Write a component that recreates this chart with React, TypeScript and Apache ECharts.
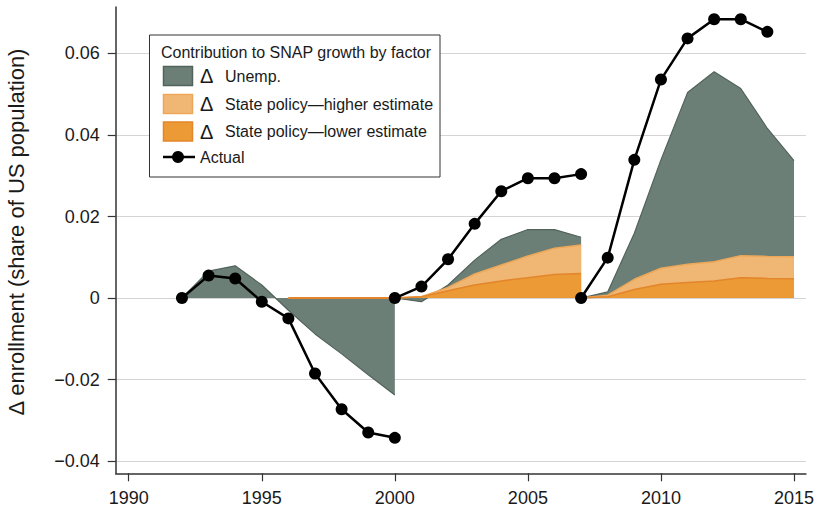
import React, { useEffect, useRef } from "react";
import * as echarts from "echarts";

const FONT = '"Liberation Sans", Arial, Helvetica, sans-serif';

// Axis ticks
const xTicks = [1990, 1995, 2000, 2005, 2010, 2015];
const yTicks = [-0.04, -0.02, 0, 0.02, 0.04, 0.06];

// Period 1: 1992–2000
const years1 = [1992, 1993, 1994, 1995, 1996, 1997, 1998, 1999, 2000];
const actual1 = [0, 0.0055, 0.0048, -0.0009, -0.005, -0.0185, -0.0273, -0.033, -0.0343];
const unemp1 = [0, 0.0066, 0.0079, 0.0032, -0.003, -0.0088, -0.0137, -0.0188, -0.0238];
const policyYears1 = [1996, 1997, 1998, 1999, 2000];
const policyHigh1 = [0, 0, 0, 0, 0];
const policyLow1 = [0, 0, 0, 0, 0];

// Period 2: 2000–2007
const years2 = [2000, 2001, 2002, 2003, 2004, 2005, 2006, 2007];
const actual2 = [0, 0.0028, 0.0095, 0.0182, 0.0262, 0.0294, 0.0294, 0.0304];
const unemp2 = [0, -0.0009, 0.0032, 0.0093, 0.0144, 0.0168, 0.0168, 0.0149];
const policyHigh2 = [0, 0.0003, 0.0026, 0.0059, 0.0081, 0.0103, 0.0122, 0.013];
const policyLow2 = [0, 0.0003, 0.0018, 0.0032, 0.0042, 0.005, 0.0058, 0.006];

// Period 3: 2007–2015
const years3 = [2007, 2008, 2009, 2010, 2011, 2012, 2013, 2014, 2015];
const actual3 = [0, 0.0099, 0.0339, 0.0536, 0.0637, 0.0684, 0.0684, 0.0653];
const unemp3 = [0, 0.0015, 0.0159, 0.0339, 0.0504, 0.0555, 0.0514, 0.0416, 0.0337];
const policyHigh3 = [0, 0.0007, 0.0046, 0.0073, 0.0083, 0.0089, 0.0104, 0.0102, 0.0101];
const policyLow3 = [0, 0.0003, 0.0021, 0.0034, 0.0038, 0.0042, 0.005, 0.0048, 0.0047];

const GRAY = "#6b7f76";
const GRAY_EDGE = "#52635b";
const LIGHT = "#f0b673";
const LIGHT_EDGE = "#eda758";
const DARK = "#ec9a36";
const DARK_EDGE = "#e3852a";

const pairs = (xs: number[], ys: number[]) => ys.map((v, i) => [xs[i], v]);

const areaSeries = (
  name: string,
  xs: number[],
  ys: number[],
  fill: string,
  edge: string,
  width: number,
  z: number
) => ({
  name,
  type: "line",
  data: pairs(xs, ys),
  symbol: "none",
  z,
  lineStyle: { color: edge, width },
  areaStyle: { color: fill, opacity: 1 },
});

const actualSeries = (xs: number[], ys: number[]) => ({
  name: "Actual",
  type: "line",
  data: pairs(xs, ys),
  symbol: "circle",
  symbolSize: 12,
  z: 10,
  itemStyle: { color: "#000" },
  lineStyle: { color: "#000", width: 2.5 },
});

const fmtY = (v: number) => {
  if (Math.abs(v) < 1e-9) return "0";
  return (v < 0 ? "\u2212" : "") + Math.abs(v).toFixed(2);
};

const legendRows = [
  { label: "Unemp.", fill: GRAY, edge: GRAY_EDGE, y: 76 },
  { label: "State policy\u2014higher estimate", fill: LIGHT, edge: LIGHT_EDGE, y: 104 },
  { label: "State policy\u2014lower estimate", fill: DARK, edge: DARK_EDGE, y: 131.5 },
];

export default function App() {
  const ref = useRef<HTMLDivElement>(null);

  useEffect(() => {
    if (!ref.current) return;
    const chart = echarts.init(ref.current, undefined, { renderer: "svg" });

    const Z = 100;
    const legendElements: any[] = [
      {
        type: "rect",
        z: Z,
        shape: { x: 149.5, y: 35, width: 290.5, height: 142 },
        style: { fill: "#fff", stroke: "#333", lineWidth: 1 },
      },
      {
        type: "text",
        z: Z + 1,
        style: {
          text: "Contribution to SNAP growth by factor",
          x: 161,
          y: 52,
          font: `16px ${FONT}`,
          fill: "#1a1a1a",
          verticalAlign: "middle",
        },
      },
    ];
    legendRows.forEach((r) => {
      legendElements.push(
        {
          type: "rect",
          z: Z + 1,
          shape: { x: 163.5, y: r.y - 9.5, width: 29, height: 19 },
          style: { fill: r.fill, stroke: r.edge, lineWidth: 1.5 },
        },
        {
          type: "text",
          z: Z + 1,
          style: {
            text: "\u0394",
            x: 200,
            y: r.y,
            font: `20px ${FONT}`,
            fill: "#1a1a1a",
            verticalAlign: "middle",
          },
        },
        {
          type: "text",
          z: Z + 1,
          style: {
            text: r.label,
            x: 225,
            y: r.y,
            font: `16px ${FONT}`,
            fill: "#1a1a1a",
            verticalAlign: "middle",
          },
        }
      );
    });
    legendElements.push(
      {
        type: "line",
        z: Z + 1,
        shape: { x1: 163, y1: 157, x2: 195, y2: 157 },
        style: { stroke: "#000", lineWidth: 2.5 },
      },
      {
        type: "circle",
        z: Z + 2,
        shape: { cx: 178, cy: 157, r: 6 },
        style: { fill: "#000" },
      },
      {
        type: "text",
        z: Z + 1,
        style: {
          text: "Actual",
          x: 200,
          y: 157,
          font: `16px ${FONT}`,
          fill: "#1a1a1a",
          verticalAlign: "middle",
        },
      }
    );

    chart.setOption({
      animation: false,
      backgroundColor: "#fff",
      grid: { left: 115.7, right: 9.7, top: 7, bottom: 38.7 },
      xAxis: {
        type: "value",
        min: 1989.51,
        max: 2015.45,
        axisLine: { onZero: false, lineStyle: { color: "#333", width: 1.5 } },
        axisTick: { customValues: xTicks, length: 8, lineStyle: { color: "#333", width: 1.2 } },
        axisLabel: {
          customValues: xTicks,
          margin: 16,
          fontSize: 18,
          fontFamily: FONT,
          color: "#1a1a1a",
          formatter: (v: number) => String(v),
        },
        splitLine: { show: false },
      },
      yAxis: {
        type: "value",
        min: -0.043,
        max: 0.0714,
        axisLine: { show: true, lineStyle: { color: "#333", width: 1.5 } },
        axisTick: { show: true, customValues: yTicks, length: 8, lineStyle: { color: "#333", width: 1.2 } },
        axisLabel: {
          customValues: yTicks,
          margin: 16,
          fontSize: 18,
          fontFamily: FONT,
          color: "#1a1a1a",
          formatter: fmtY,
        },
        splitLine: { show: true, lineStyle: { color: "#d4d4d4", width: 1.2 } },
      },
      graphic: [
        {
          type: "text",
          x: 16,
          y: 232,
          rotation: Math.PI / 2,
          style: {
            text: "\u0394 enrollment (share of US population)",
            font: `22px ${FONT}`,
            fill: "#1a1a1a",
            align: "center",
            verticalAlign: "middle",
          },
        },
        ...legendElements,
      ],
      series: [
        areaSeries("\u0394 Unemp.", years1, unemp1, GRAY, GRAY_EDGE, 1.2, 2),
        areaSeries("\u0394 Unemp.", years2, unemp2, GRAY, GRAY_EDGE, 1.2, 2),
        areaSeries("\u0394 Unemp.", years3, unemp3, GRAY, GRAY_EDGE, 1.2, 2),
        areaSeries("\u0394 State policy\u2014higher estimate", policyYears1, policyHigh1, LIGHT, LIGHT_EDGE, 1.5, 3),
        areaSeries("\u0394 State policy\u2014higher estimate", years2, policyHigh2, LIGHT, LIGHT_EDGE, 1.5, 3),
        areaSeries("\u0394 State policy\u2014higher estimate", years3, policyHigh3, LIGHT, LIGHT_EDGE, 1.5, 3),
        areaSeries("\u0394 State policy\u2014lower estimate", policyYears1, policyLow1, DARK, DARK_EDGE, 2, 4),
        areaSeries("\u0394 State policy\u2014lower estimate", years2, policyLow2, DARK, DARK_EDGE, 1.5, 4),
        areaSeries("\u0394 State policy\u2014lower estimate", years3, policyLow3, DARK, DARK_EDGE, 1.5, 4),
        actualSeries(years1, actual1),
        actualSeries(years2, actual2),
        actualSeries(years3.slice(0, actual3.length), actual3),
      ],
    });

    return () => chart.dispose();
  }, []);

  return (
    <div
      ref={ref}
      style={{ position: "fixed", left: 0, top: 0, width: 817, height: 512, background: "#fff" }}
    />
  );
}
